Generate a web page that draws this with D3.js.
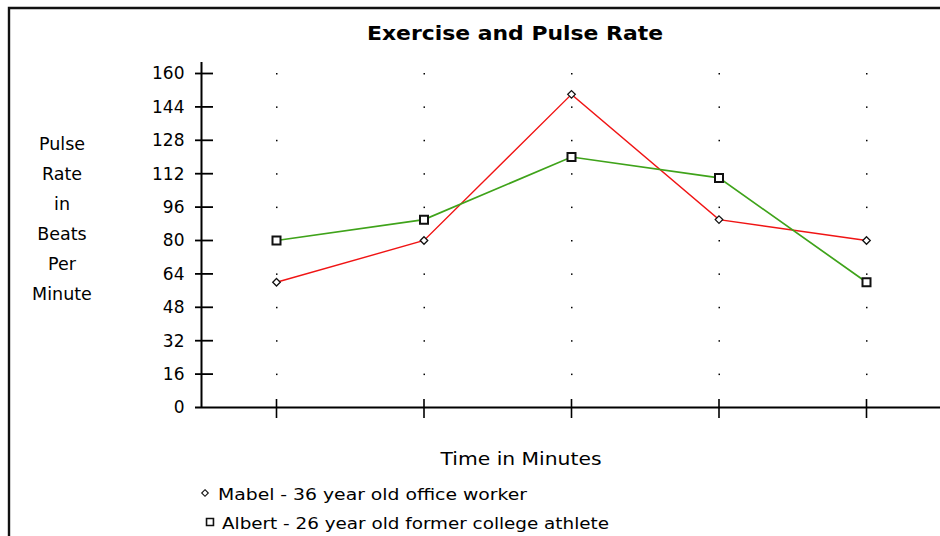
<!DOCTYPE html>
<html>
<head>
<meta charset="utf-8">
<script src="https://cdn.jsdelivr.net/npm/d3@7"></script>
<style>
  html, body { margin: 0; padding: 0; background: #fff; }
  svg { display: block; }
  text { font-family: "DejaVu Sans", sans-serif; fill: #000; }
</style>
</head>
<body>
<svg id="chart" width="940" height="536"></svg>
<script>
const title = "Exercise and Pulse Rate";
const xTitle = "Time in Minutes";
const yTitleLines = ["Pulse", "Rate", "in", "Beats", "Per", "Minute"];
const categories = ["1", "2", "3", "4", "5"];
const yTicks = [0, 16, 32, 48, 64, 80, 96, 112, 128, 144, 160];
const seriesNames = ["Mabel - 36 year old office worker", "Albert - 26 year old former college athlete"];
const mabel = [60, 80, 150, 90, 80];
const albert = [80, 90, 120, 110, 60];

const svg = d3.select("#chart");
const W = 940, H = 536;

// frame
svg.append("path")
  .attr("d", `M9,${H} V8 H${W}`)
  .attr("fill", "none").attr("stroke", "#111").attr("stroke-width", 2.4);

const x = d3.scalePoint().domain(categories).range([276.5, 866.5]);
const y = d3.scaleLinear().domain([0, 160]).range([407.5, 73.5]);
const axisX0 = 201.5;

// title
svg.append("text").attr("x", 515).attr("y", 40).attr("text-anchor", "middle")
  .attr("font-size", 19).attr("font-weight", "bold")
  .attr("textLength", 296).attr("lengthAdjust", "spacingAndGlyphs")
  .text(title);

// y axis
const yAxis = d3.axisLeft(y).tickValues(yTicks).tickSize(0).tickPadding(17);
const gy = svg.append("g").attr("transform", `translate(${axisX0},0)`).call(yAxis);
gy.select(".domain").remove();
gy.selectAll("text").attr("font-size", 17).attr("font-family", "DejaVu Sans").attr("fill", "#000");
svg.append("line").attr("x1", axisX0).attr("x2", axisX0).attr("y1", 62).attr("y2", y(0))
  .attr("stroke", "#000").attr("stroke-width", 2);
svg.selectAll(".ytick").data(yTicks.filter(d => d > 0)).join("line")
  .attr("class", "ytick")
  .attr("x1", 195).attr("x2", 213)
  .attr("y1", d => y(d)).attr("y2", d => y(d))
  .attr("stroke", "#000").attr("stroke-width", 1.8);

// x axis
svg.append("line").attr("x1", 195).attr("x2", W).attr("y1", y(0)).attr("y2", y(0))
  .attr("stroke", "#000").attr("stroke-width", 2);
const xAxis = d3.axisBottom(x).tickSize(0).tickFormat("");
const gx = svg.append("g").attr("transform", `translate(0,${y(0)})`).call(xAxis);
gx.select(".domain").remove();
svg.selectAll(".xtick").data(categories).join("line")
  .attr("class", "xtick")
  .attr("x1", d => x(d)).attr("x2", d => x(d))
  .attr("y1", 399).attr("y2", 418)
  .attr("stroke", "#000").attr("stroke-width", 1.6);

// grid dots
const dots = [];
categories.forEach(c => yTicks.filter(v => v > 0).forEach(v => dots.push({c, v})));
svg.selectAll(".gdot").data(dots).join("rect")
  .attr("class", "gdot")
  .attr("x", d => x(d.c) - 0.5).attr("y", d => y(d.v) - 0.5)
  .attr("width", 1.5).attr("height", 1.5).attr("fill", "#000");

// y title
svg.append("text").attr("text-anchor", "middle").attr("font-size", 17.5)
  .selectAll("tspan").data(yTitleLines).join("tspan")
  .attr("x", 62).attr("y", (d, i) => 150 + i * 30).text(d => d);

// x title
svg.append("text").attr("x", 521).attr("y", 465).attr("text-anchor", "middle")
  .attr("font-size", 18).attr("textLength", 161).attr("lengthAdjust", "spacingAndGlyphs")
  .text(xTitle);

// lines
const line = d3.line().x((d, i) => x(categories[i])).y(d => y(d));
const series = [
  {name: seriesNames[0], values: mabel, color: "#f01414", width: 1.4, symbol: d3.symbolDiamond2, size: 36, sw: 1.3},
  {name: seriesNames[1], values: albert, color: "#3fa31a", width: 1.7, symbol: d3.symbolSquare, size: 64, sw: 2}
];
series.forEach(s => {
  svg.append("path").attr("d", line(s.values)).attr("fill", "none")
    .attr("stroke", s.color).attr("stroke-width", s.width);
});
series.forEach(s => {
  svg.selectAll(null).data(s.values).join("path")
    .attr("transform", (d, i) => `translate(${x(categories[i])},${y(d)})`)
    .attr("d", d3.symbol().type(s.symbol).size(s.size))
    .attr("fill", "#fff").attr("stroke", "#111").attr("stroke-width", s.sw);
});

// legend
const legY = [493, 522];
const legSymX = [205, 210];
const legTextX = [218, 222];
const legLen = [309, 387];
series.forEach((s, i) => {
  svg.append("path").attr("transform", `translate(${legSymX[i]},${legY[i]})`)
    .attr("d", d3.symbol().type(s.symbol).size(i === 0 ? 28 : 48))
    .attr("fill", "#fff").attr("stroke", "#111").attr("stroke-width", i === 0 ? 1.1 : 1.6);
  svg.append("text").attr("x", legTextX[i]).attr("y", legY[i] + 7)
    .attr("font-size", 16).attr("textLength", legLen[i]).attr("lengthAdjust", "spacingAndGlyphs")
    .text(s.name);
});
</script>
</body>
</html>
